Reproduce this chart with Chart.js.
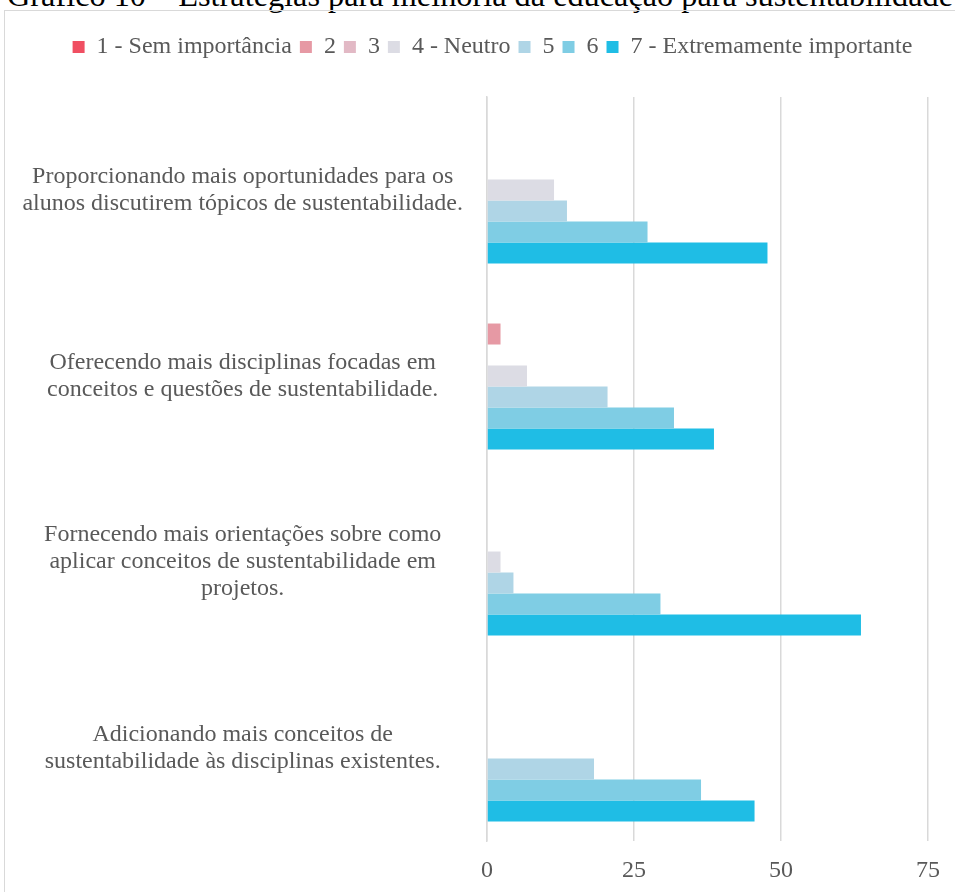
<!DOCTYPE html>
<html>
<head>
<meta charset="utf-8">
<script src="https://cdn.jsdelivr.net/npm/chart.js@4"></script>
<style>
  body { margin: 0; background: #fff; overflow: hidden; width: 955px; height: 892px; position: relative; }
  #title { position: absolute; left: 7px; top: -21px; text-align: left;
           font: 32.3px "Liberation Serif", serif; line-height: 1; color: #000; white-space: nowrap; }
  #frame { position: absolute; left: 4px; top: 10px; width: 977px; height: 900px;
           border: 1px solid #d9d9d9; box-sizing: border-box; }
</style>
</head>
<body>
<div id="title">Gráfico 10 – Estratégias para melhoria da educação para sustentabilidade</div>
<div id="frame"><canvas id="myChart" width="975" height="898"></canvas></div>
<script>
const categories = [
    ['Proporcionando mais oportunidades para os', 'alunos discutirem tópicos de sustentabilidade.'],
    ['Oferecendo mais disciplinas focadas em', 'conceitos e questões de sustentabilidade.'],
    ['Fornecendo mais orientações sobre como', 'aplicar conceitos de sustentabilidade em', 'projetos.'],
    ['Adicionando mais conceitos de', 'sustentabilidade às disciplinas existentes.']
];
const seriesNames = ['1 - Sem importância', '2', '3', '4 - Neutro', '5', '6', '7 - Extremamente importante'];
const s1 = [0, 0, 0, 0];
const s2 = [0, 2.3, 0, 0];
const s3 = [0, 0, 0, 0];
const s4 = [11.4, 6.8, 2.3, 0];
const s5 = [13.6, 20.5, 4.5, 18.2];
const s6 = [27.3, 31.8, 29.5, 36.4];
const s7 = [47.7, 38.6, 63.6, 45.5];
const xTicks = [0, 25, 50, 75];

const colors = ['#f04f62', '#e699a4', '#e2b9c5', '#dcdce4', '#afd5e6', '#7fcde4', '#1fbde5'];
const values = [s1, s2, s3, s4, s5, s6, s7];

// legend: extra space below it, and centre it on the whole canvas
const legendTweak = {
    id: 'legendTweak',
    beforeInit(chart) {
        const fit = chart.legend.fit;
        chart.legend.fit = function () {
            fit.bind(chart.legend)();
            this.height += 28;
        };
    },
    afterLayout(chart) {
        chart.legend.left = 0;
        chart.legend.right = chart.width;
        chart.legend.width = chart.width;
    }
};

const ctx = document.getElementById('myChart').getContext('2d');
new Chart(ctx, {
    type: 'bar',
    data: {
        labels: categories,
        datasets: seriesNames.map((name, i) => ({
            label: name,
            data: values[i],
            backgroundColor: colors[i],
            borderWidth: 0
        }))
    },
    options: {
        indexAxis: 'y',
        responsive: false,
        animation: false,
        categoryPercentage: 0.79,
        barPercentage: 1.0,
        layout: { padding: { top: 16, right: 52, bottom: 18, left: 0 } },
        plugins: {
            legend: {
                position: 'top',
                labels: {
                    boxWidth: 12,
                    boxHeight: 12,
                    padding: 8,
                    color: '#595959',
                    font: { family: 'Liberation Serif', size: 24 }
                }
            },
            tooltip: { enabled: false }
        },
        scales: {
            x: {
                min: 0,
                max: 75,
                afterBuildTicks: (axis) => { axis.ticks = xTicks.map(v => ({ value: v })); },
                afterFit: (axis) => { axis.height = 50; },
                grid: { color: '#d9d9d9', lineWidth: 1.5, drawTicks: false },
                border: { display: false },
                ticks: {
                    padding: 15,
                    color: '#595959',
                    font: { family: 'Liberation Serif', size: 24 }
                }
            },
            y: {
                afterFit: (axis) => { axis.width = 482; },
                grid: { display: false },
                border: { color: '#d9d9d9', width: 1.5 },
                ticks: {
                    crossAlign: 'center',
                    padding: 16,
                    color: '#595959',
                    font: { family: 'Liberation Serif', size: 24, lineHeight: 1.125 }
                }
            }
        }
    },
    plugins: [legendTweak]
});
</script>
</body>
</html>
